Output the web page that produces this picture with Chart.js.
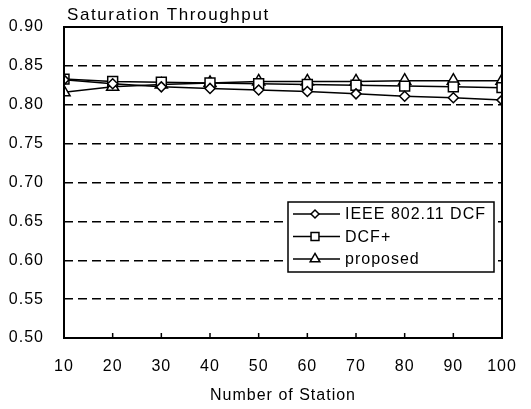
<!DOCTYPE html>
<html>
<head>
<meta charset="utf-8">
<script src="https://cdn.jsdelivr.net/npm/chart.js@4"></script>
<style>
  html, body { margin: 0; padding: 0; background: #fff; }
  #wrap { width: 531px; height: 409px; }
</style>
</head>
<body>
<div id="wrap"><canvas id="myChart" width="531" height="409"></canvas></div>
<script>
var stations = [10, 20, 30, 40, 50, 60, 70, 80, 90, 100];
var ieeeDcf = [0.832, 0.827, 0.823, 0.821, 0.819, 0.817, 0.814, 0.811, 0.809, 0.806];
var dcfPlus = [0.833, 0.830, 0.829, 0.828, 0.827, 0.826, 0.825, 0.824, 0.823, 0.822];
var proposed = [0.816, 0.823, 0.826, 0.828, 0.830, 0.830, 0.830, 0.831, 0.831, 0.831];
var seriesNames = ['IEEE 802.11 DCF', 'DCF+', 'proposed'];
var markers = ['rectRot', 'rect', 'triangle'];
var markerSizes = [5, 7, 7];

var FONT = '"Liberation Sans", Arial, sans-serif';

function toPoints(vals) {
  return stations.map((s, i) => ({ x: s, y: vals[i] }));
}

function makeSet(i, vals) {
  return {
    label: seriesNames[i],
    data: toPoints(vals),
    borderColor: '#000',
    borderWidth: 1.5,
    backgroundColor: '#fff',
    pointStyle: markers[i],
    pointRadius: markerSizes[i],
    pointBorderWidth: 1.5,
    pointBorderColor: '#000',
    pointBackgroundColor: '#fff',
    fill: false,
    tension: 0
  };
}

// solid frame, inward x ticks, axis title on top, legend box inside the plot
var decor = {
  id: 'decor',
  beforeDraw(chart) {
    chart.ctx.letterSpacing = '1px';
  },
  afterDatasetsDraw(chart) {
    var ctx = chart.ctx;
    var a = chart.chartArea;
    var xs = chart.scales.x;
    ctx.save();
    ctx.strokeStyle = '#000';
    ctx.lineWidth = 2;
    ctx.strokeRect(a.left, a.top, a.right - a.left, a.bottom - a.top);
    ctx.lineWidth = 1.5;
    stations.forEach(s => {
      var px = xs.getPixelForValue(s);
      ctx.beginPath();
      ctx.moveTo(px, a.bottom);
      ctx.lineTo(px, a.bottom - 5);
      ctx.stroke();
    });

    ctx.fillStyle = '#000';
    ctx.font = '17px ' + FONT;
    ctx.letterSpacing = '1.6px';
    ctx.textBaseline = 'alphabetic';
    ctx.textAlign = 'left';
    ctx.fillText('Saturation Throughput', a.left + 3, a.top - 7);

    // legend
    ctx.font = '16px ' + FONT;
    ctx.letterSpacing = '1px';
    var lx = 288, ly = 202, lw = 206, lh = 70;
    ctx.fillStyle = '#fff';
    ctx.fillRect(lx, ly, lw, lh);
    ctx.strokeStyle = '#000';
    ctx.lineWidth = 1.5;
    ctx.strokeRect(lx, ly, lw, lh);
    chart.data.datasets.forEach((ds, i) => {
      var cy = ly + 12 + i * 22.5;
      ctx.beginPath();
      ctx.lineWidth = 1.5;
      ctx.moveTo(lx + 5, cy);
      ctx.lineTo(lx + 52, cy);
      ctx.stroke();
      ctx.fillStyle = '#fff';
      Chart.helpers.drawPoint(ctx, { pointStyle: ds.pointStyle, radius: ds.pointRadius * 0.8, borderWidth: 1.5, rotation: 0 }, lx + 27, cy);
      ctx.fillStyle = '#000';
      ctx.textBaseline = 'middle';
      ctx.fillText(ds.label, lx + 57, cy + 1);
    });
    ctx.restore();
  }
};

var ctx = document.getElementById('myChart').getContext('2d');
var chart = new Chart(ctx, {
  type: 'line',
  data: {
    datasets: [makeSet(0, ieeeDcf), makeSet(1, dcfPlus), makeSet(2, proposed)]
  },
  plugins: [decor],
  options: {
    responsive: false,
    animation: false,
    layout: { padding: { top: 27, right: 29, left: 0, bottom: 0 } },
    plugins: {
      legend: { display: false },
      tooltip: { enabled: false }
    },
    scales: {
      x: {
        type: 'linear',
        min: 10,
        max: 100,
        ticks: { stepSize: 10, color: '#000', padding: 19, font: { family: FONT, size: 16 } },
        grid: { display: false, drawTicks: false },
        border: { display: false },
        title: { display: true, text: 'Number of Station', color: '#000', font: { family: FONT, size: 16 }, padding: { top: 11 } },
        afterFit(scale) { scale.height = 71; scale.paddingLeft = 0; scale.paddingRight = 0; }
      },
      y: {
        min: 0.5,
        max: 0.9,
        ticks: {
          stepSize: 0.05,
          color: '#000',
          padding: 20,
          font: { family: FONT, size: 16 },
          callback: v => v.toFixed(2)
        },
        grid: { color: '#000', lineWidth: 1.5, drawTicks: false },
        border: { display: false, dash: [9, 5] },
        afterFit(scale) { scale.width = 64; scale.paddingTop = 0; scale.paddingBottom = 0; }
      }
    }
  }
});
</script>
</body>
</html>
